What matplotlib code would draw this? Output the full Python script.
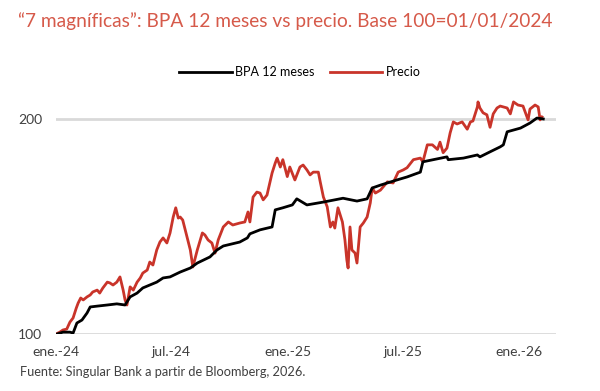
import numpy as np
import pandas as pd
import matplotlib
matplotlib.use('Agg')
import matplotlib.pyplot as plt
from matplotlib.ticker import FixedLocator, NullLocator

plt.rcParams['font.family'] = ['Lato', 'DejaVu Sans']

start = pd.Timestamp('2024-01-01')

# Precio (base 100), days since 2024-01-01
price_days = [0, 6, 11, 17, 22, 27, 32, 35, 39, 43, 49, 54, 58, 65, 69, 74, 81, 85, 90, 96,
              101, 106, 109, 112, 117, 122, 128, 133, 137, 144, 148, 153, 159, 164, 169, 175,
              180, 185, 189, 193, 196, 200, 204, 208, 212, 216, 223, 231, 235, 240, 246, 251,
              256, 264, 272, 279, 290, 298, 303, 306, 311, 317, 322, 327, 333, 341, 346, 349,
              354, 358, 365, 369, 377, 385, 390, 396, 401, 406, 414, 417, 422, 428, 433, 437,
              440, 445, 452, 456, 459, 461, 464, 467, 472, 475, 480, 485, 491, 496, 499, 504,
              512, 523, 532, 540, 548, 554, 564, 575, 579, 586, 594, 602, 606, 611, 617, 622,
              627, 633, 641, 649, 654, 658, 665, 666, 669, 674, 680, 685, 690, 696, 701, 706,
              712, 717, 722, 729, 737, 745, 748, 756, 761, 764, 767]
price = [100.0, 100.6, 101.3, 101.6, 103.9, 105.3, 108.7, 110.5, 112.3, 111.6, 112.7, 113.4,
         114.5, 115.2, 114.1, 116.0, 118.2, 117.9, 117.1, 118.2, 120.2, 115.2, 111.6, 109.8,
         116.4, 115.2, 118.2, 119.8, 121.7, 122.9, 126.1, 124.9, 131.1, 134.5, 136.3, 134.1,
         138.5, 145.8, 150.2, 145.3, 145.8, 144.4, 139.9, 135.4, 131.1, 124.1, 131.1, 138.5,
         137.6, 135.4, 134.1, 129.8, 135.4, 141.2, 143.5, 142.1, 143.0, 143.5, 148.2, 143.5,
         155.5, 158.0, 157.5, 154.1, 156.5, 168.0, 173.5, 176.3, 171.3, 175.4, 166.1, 171.3,
         164.3, 171.3, 172.4, 169.7, 167.0, 168.5, 168.5, 163.3, 155.5, 150.7, 141.2, 143.5,
         140.7, 150.2, 143.5, 135.4, 126.9, 123.7, 141.2, 131.1, 129.8, 125.7, 141.2, 143.0,
         145.8, 152.6, 160.1, 157.5, 159.0, 163.3, 162.7, 168.5, 169.7, 170.9, 175.4, 176.3,
         174.2, 184.0, 184.0, 181.3, 185.6, 179.4, 182.1, 191.2, 198.1, 196.8, 198.1, 193.5,
         198.1, 198.7, 207.9, 211.3, 207.2, 204.0, 202.7, 194.7, 203.3, 207.2, 208.5, 207.9,
         207.2, 203.3, 211.3, 209.2, 208.5, 199.4, 206.5, 209.2, 207.9, 199.4, 201.3]

# BPA 12 meses (base 100)
eps_days = [2, 11, 22, 27, 33, 41, 49, 54, 65, 81, 96, 109, 117, 128, 137, 148, 159, 169, 180,
            196, 212, 223, 243, 254, 264, 290, 302, 306, 322, 341, 346, 358, 373, 380, 396, 422,
            453, 475, 491, 499, 512, 538, 554, 575, 579, 617, 619, 643, 665, 669, 685, 701, 706,
            712, 733, 748, 759, 769]
eps = [100.0, 100.6, 100.6, 100.3, 103.6, 104.6, 107.0, 109.1, 109.4, 109.8, 110.2, 109.8,
       112.7, 114.1, 116.0, 117.1, 118.2, 119.8, 120.2, 122.1, 123.7, 125.7, 128.2, 131.1,
       132.8, 134.5, 136.3, 138.1, 139.9, 141.2, 149.2, 150.2, 151.6, 154.6, 151.6, 153.0,
       154.9, 153.5, 154.6, 160.1, 161.6, 164.3, 165.9, 168.5, 174.2, 177.0, 175.4, 176.3,
       178.1, 177.0, 179.9, 182.8, 184.0, 191.9, 194.2, 197.4, 200.6, 200.0]

tick_dates = ['2024-01-01', '2024-07-01', '2025-01-01', '2025-07-01', '2026-01-01']
tick_labels = ['ene.-24', 'jul.-24', 'ene.-25', 'jul.-25', 'ene.-26']
y_ticks = [100, 200]

price_x = start + pd.to_timedelta(price_days, unit='D')
eps_x = start + pd.to_timedelta(eps_days, unit='D')

fig = plt.figure(figsize=(6, 3.91), dpi=100)
ax = fig.add_axes([0.0933, 0.1458, 0.8333, 0.611])

for v in y_ticks:
    ax.axhline(v, color='#d9d9d9', lw=2, zorder=1)

ax.plot(eps_x, eps, color='black', lw=2, label='BPA 12 meses', zorder=3)
ax.plot(price_x, price, color='#c9342a', lw=2, label='Precio', zorder=2)

ax.set_yscale('log', base=2)
ax.set_ylim(100, 216)
ax.yaxis.set_major_locator(FixedLocator(y_ticks))
ax.yaxis.set_minor_locator(NullLocator())
ax.set_yticklabels([str(v) for v in y_ticks])
ax.set_xlim(pd.Timestamp('2024-01-01'), pd.Timestamp('2026-02-28'))
ax.set_xticks(pd.to_datetime(tick_dates))
ax.set_xticklabels(tick_labels)
ax.tick_params(length=0, labelsize=10, colors='#404040')
ax.tick_params(axis='y', pad=10)
ax.tick_params(axis='x', pad=9)
for s in ax.spines.values():
    s.set_visible(False)

fig.text(0.03, 0.945, '\u201c7 magníficas\u201d: BPA 12 meses vs precio. Base 100=01/01/2024',
         color='#d65a4a', fontsize=13.8, va='center', ha='left')
fig.text(0.033, 0.048, 'Fuente: Singular Bank a partir de Bloomberg, 2026.',
         color='#404040', fontsize=9.2, va='center', ha='left')

fig.legend(loc='center', bbox_to_anchor=(0.5, 0.816), ncol=2, frameon=False,
           fontsize=9, handlelength=4.2, handletextpad=0.3, columnspacing=1.2)

fig.savefig('out.png', dpi=100)
